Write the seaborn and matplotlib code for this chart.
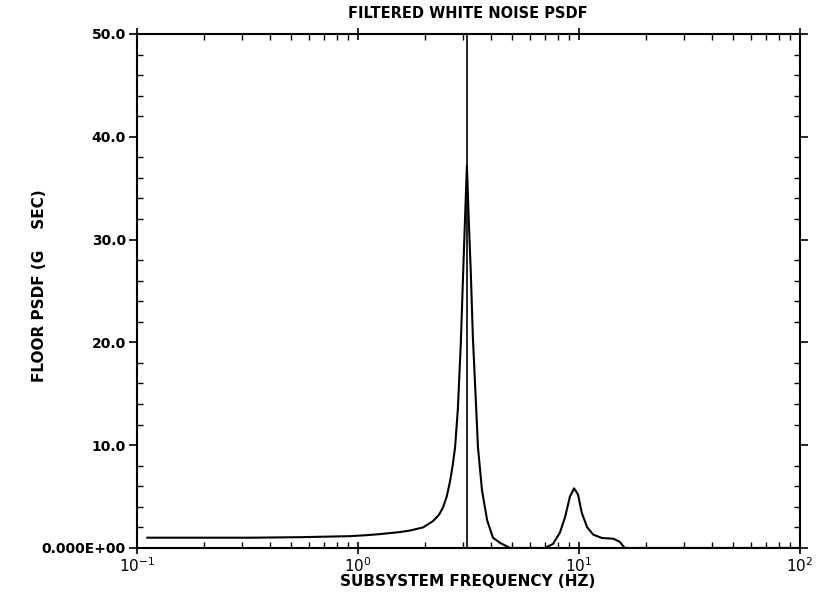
import numpy as np
import pandas as pd
import matplotlib
matplotlib.use("Agg")
import matplotlib.pyplot as plt
import seaborn as sns
from matplotlib.ticker import FixedLocator, NullFormatter

# ---- data ----
freq_hz = [0.111, 0.193, 0.325, 0.547, 0.92, 1.10, 1.26, 1.55, 1.72, 1.97, 2.18, 2.32,
           2.42, 2.52, 2.61, 2.68, 2.75, 2.83, 2.92, 2.99, 3.05, 3.11, 3.17, 3.24,
           3.31, 3.38, 3.49, 3.64, 3.84, 4.08, 4.39, 4.87, 7.02, 7.63,
           8.2, 8.65, 9.1, 9.5, 9.9, 10.3, 10.9, 11.6, 12.7, 14.3, 15.3, 16.1, 100.0]
psdf = [1.0, 1.0, 1.0, 1.05, 1.15, 1.25, 1.35, 1.55, 1.7, 2.0, 2.6, 3.2,
        3.9, 5.0, 6.5, 8.0, 9.8, 13.5, 20.0, 26.7, 32.0, 37.2, 32.0, 26.7,
        20.5, 16.3, 9.8, 5.6, 2.7, 1.0, 0.5, 0.0, 0.0, 0.4,
        1.5, 3.0, 5.0, 5.8, 5.2, 3.4, 2.0, 1.3, 0.97, 0.9, 0.6, 0.0, 0.0]
marker_freq = [3.11]
y_ticks = [0, 10, 20, 30, 40, 50]
y_tick_labels = ["0.000E+00", "10.0", "20.0", "30.0", "40.0", "50.0"]
x_ticks = [0.1, 1, 10, 100]
x_tick_labels = ["$10^{-1}$", "$10^{0}$", "$10^{1}$", "$10^{2}$"]

sns.set_style("ticks")
plt.rcParams["font.family"] = ["DejaVu Sans"]
plt.rcParams["text.color"] = "black"
plt.rcParams["xtick.color"] = "black"
plt.rcParams["ytick.color"] = "black"

df = pd.DataFrame({"freq": freq_hz, "psdf": psdf})

fig = plt.figure(figsize=(8.22, 6.09), dpi=100)
ax = fig.add_axes([0.1667, 0.1002, 0.8065, 0.844])

sns.lineplot(data=df, x="freq", y="psdf", ax=ax, color="black", linewidth=1.5,
             estimator=None, sort=False)
for f in marker_freq:
    ax.axvline(f, color="black", linewidth=1.2)

ax.set_xscale("log")
ax.set_xlim(0.1, 100)
ax.set_ylim(0, 50)

ax.set_yticks(y_ticks)
ax.set_yticklabels(y_tick_labels, fontsize=10, fontweight="bold", color="black")
ax.yaxis.set_minor_locator(FixedLocator(np.arange(0, 50.1, 2)))
ax.set_xticks(x_ticks)
ax.set_xticklabels(x_tick_labels, fontsize=11, fontweight="bold", color="black")
minors = [m * 10.0 ** e for e in (-1, 0, 1) for m in range(2, 10)]
ax.xaxis.set_minor_locator(FixedLocator(minors))
ax.xaxis.set_minor_formatter(NullFormatter())

ax.tick_params(axis="y", which="major", direction="out", length=6, width=1.2,
               right=True, labelright=False, pad=2)
ax.tick_params(axis="y", which="minor", direction="in", length=4, width=1,
               right=True)
ax.tick_params(axis="x", which="major", direction="inout", length=8, width=1.2,
               top=True, pad=2)
ax.tick_params(axis="x", which="minor", direction="in", length=4, width=1,
               top=True)
for s in ax.spines.values():
    s.set_linewidth(1.5)
    s.set_color("black")

ax.set_xlabel("")
ax.set_ylabel("")
fig.text(468 / 822, 1 - 581 / 609, "SUBSYSTEM FREQUENCY (HZ)", fontsize=11,
         fontweight="bold", ha="center", va="center", color="black")
fig.text(40 / 822, 1 - 286 / 609, "FLOOR PSDF (G    SEC)", fontsize=11,
         fontweight="bold", ha="center", va="center", rotation=90, color="black")
fig.text(468 / 822, 1 - 14 / 609, "FILTERED WHITE NOISE PSDF", fontsize=10.5,
         fontweight="bold", ha="center", va="center", color="black")

fig.savefig("out.png", dpi=100, facecolor="white")
